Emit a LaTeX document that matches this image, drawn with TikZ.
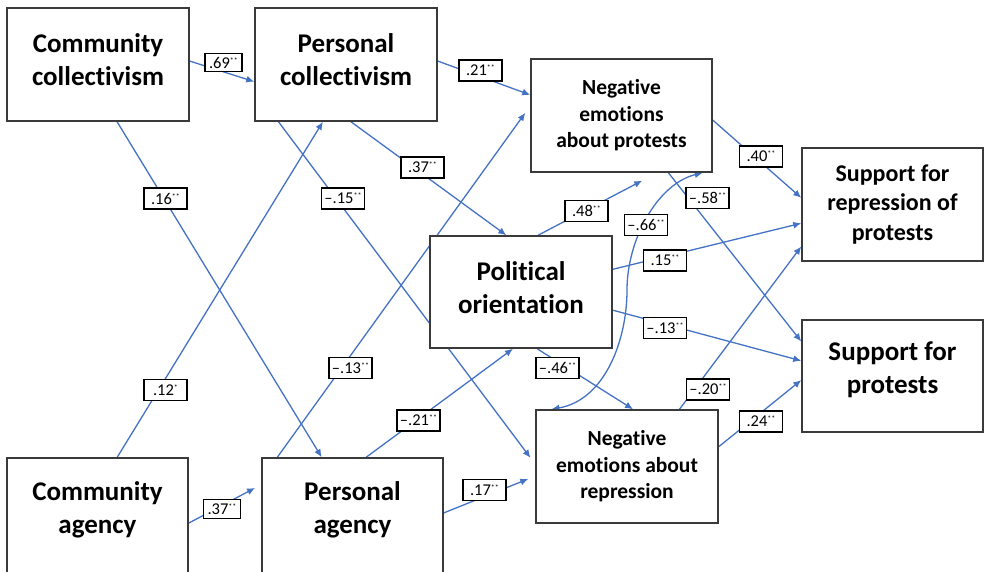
\documentclass[tikz,border=0pt]{standalone}
\usepackage{fontspec}
\setmainfont{Carlito}[Ligatures={TeX,NoCommon}]
\usetikzlibrary{arrows.meta,calc,backgrounds}
\definecolor{arrowblue}{HTML}{4472C4}
\definecolor{boxgray}{HTML}{3A3A3A}
\newcommand{\cfss}[1]{#1\raisebox{5pt}{\fontsize{8}{8}\selectfont**}}
\newcommand{\cfs}[1]{#1\raisebox{5pt}{\fontsize{8}{8}\selectfont*}}
\tikzset{
  bigbox/.style={draw=boxgray, line width=1.5pt, fill=white, align=center, inner sep=0pt,
    font=\bfseries\fontsize{27}{33}\selectfont},
  midbox/.style={bigbox, font=\bfseries\fontsize{21.5}{26.5}\selectfont},
  srpbox/.style={bigbox, font=\bfseries\fontsize{24}{29.5}\selectfont},
  conn/.style={draw=arrowblue, line width=1.3pt, -{Latex[length=8pt,width=7pt]}},
  conntwo/.style={draw=arrowblue, line width=1.3pt, {Latex[length=8pt,width=7pt]}-{Latex[length=8pt,width=7pt]}},
  lbl/.style={draw=black, line width=1.1pt, fill=white, font=\fontsize{16.5}{16.5}\selectfont,
    minimum width=43pt, minimum height=21pt, inner sep=1pt},
  slbl/.style={lbl, minimum width=37pt, minimum height=18.5pt},
}
\begin{document}
\begin{tikzpicture}[x=1pt,y=-1pt]
\useasboundingbox (0,0) rectangle (984,571);
% boxes
\node[bigbox, minimum width=182, minimum height=113, text depth=9pt] (cc) at (98,64.5) {Community\\collectivism};
\node[bigbox, minimum width=182, minimum height=113, text depth=9pt] (pc) at (346,64.5) {Personal\\collectivism};
\node[midbox, minimum width=181, minimum height=113] (nep) at (621.5,115.5) {Negative\\emotions\\about protests};
\node[srpbox, minimum width=181, minimum height=113] (srp) at (892.5,204.5) {Support for\\repression of\\protests};
\node[bigbox, minimum width=182, minimum height=112, text depth=8pt] (po) at (521,292) {Political\\orientation};
\node[bigbox, minimum width=181, minimum height=112, text depth=16pt] (sp) at (892.5,376) {Support for\\protests};
\node[midbox, minimum width=182, minimum height=113] (ner) at (627,466.5) {Negative\\emotions about\\repression};
\node[bigbox, minimum width=181, minimum height=115, text depth=15pt] (ca) at (97.5,515.5) {Community\\agency};
\node[bigbox, minimum width=181, minimum height=115, text depth=15pt] (pa) at (352.5,515.5) {Personal\\agency};
% connectors
\begin{scope}[on background layer]
\draw[conn] ($(cc.north east)!.47!(cc.south east)$) -- ($(pc.north west)!.65!(pc.south west)$);
\draw[conn] ($(cc.south west)!.604!(cc.south east)$) -- ($(pa.north west)!.331!(pa.north east)$);
\draw[conn] ($(ca.north west)!.608!(ca.north east)$) -- ($(pc.south west)!.374!(pc.south east)$);
\draw[conn, shorten >=7pt] ($(ca.north east)!.565!(ca.south east)$) -- ($(pa.north west)!.235!(pa.south west)$);
\draw[conn, shorten >=8pt] ($(pc.south west)!.132!(pc.south east)$) -- ($(ner.north west)!.48!(ner.south west)$);
\draw[conn] ($(pc.south west)!.527!(pc.south east)$) -- ($(po.north west)!.42!(po.north east)$);
\draw[conn] ($(pc.north east)!.47!(pc.south east)$) -- ($(nep.north west)!.32!(nep.south west)$);
\draw[conn, shorten >=8.5pt] ($(pa.north west)!.088!(pa.north east)$) -- ($(nep.north west)!.416!(nep.south west)$);
\draw[conn] ($(pa.north west)!.575!(pa.north east)$) -- ($(po.south west)!.456!(po.south east)$);
\draw[conn, shorten >=7.5pt] ($(pa.north east)!.478!(pa.south east)$) -- ($(ner.north west)!.584!(ner.south west)$);
\draw[conn, shorten >=17pt] ($(po.north west)!.593!(po.north east)$) -- ($(nep.south west)!.696!(nep.south east)$);
\draw[conn] ($(po.north east)!.30!(po.south east)$) -- ($(srp.north west)!.664!(srp.south west)$);
\draw[conn] ($(po.north east)!.66!(po.south east)$) -- ($(sp.north west)!.366!(sp.south west)$);
\draw[conn] ($(po.south west)!.588!(po.south east)$) -- ($(ner.north west)!.533!(ner.north east)$);
\draw[conn] ($(nep.north east)!.54!(nep.south east)$) -- ($(srp.north west)!.442!(srp.south west)$);
\draw[conn] ($(nep.south west)!.757!(nep.south east)$) -- ($(sp.north west)!.196!(sp.south west)$);
\draw[conn] ($(ner.north west)!.786!(ner.north east)$) -- ($(srp.north west)!.867!(srp.south west)$);
\draw[conn] ($(ner.north east)!.327!(ner.south east)$) -- ($(sp.north west)!.536!(sp.south west)$);
\coordinate (m66) at (627,290);
\draw[conntwo] ($(nep.south west)!.945!(nep.south east)$) .. controls (657,184) and (627,240) .. (m66)
   .. controls (627,340) and (605,400) .. ($(ner.north west)!.088!(ner.north east)$);
\end{scope}
% coefficient labels
\node[slbl] (l69) at (223.5,62.5) {\cfss{.69}};
\node[lbl] (l16) at (165.5,198.5) {\cfss{.16}};
\node[lbl] (l12) at (165.5,390) {\cfs{.12}};
\node[slbl] (l37a) at (222,509) {\cfss{.37}};
\node[lbl] (l15) at (343,198.5) {\cfss{--.15}};
\node[lbl] (l37b) at (422.5,167.5) {\cfss{.37}};
\node[lbl] (l21) at (480.5,70.5) {\cfss{.21}};
\node[lbl] (l13a) at (350.5,368) {\cfss{--.13}};
\node[lbl] (l21b) at (418.5,420.5) {\cfss{--.21}};
\node[lbl] (l17) at (484.5,490) {\cfss{.17}};
\node[lbl] (l48) at (586.5,211) {\cfss{.48}};
\node[lbl] (l15b) at (665,260.5) {\cfss{.15}};
\node[lbl] (l13b) at (665,328) {\cfss{--.13}};
\node[lbl] (l46) at (557.5,368) {\cfss{--.46}};
\node[lbl] (l40) at (761,156.5) {\cfss{.40}};
\node[lbl] (l58) at (707.5,198) {\cfss{--.58}};
\node[lbl] (l66) at (646,225) {\cfss{--.66}};
\node[lbl] (l20) at (708,389.5) {\cfss{--.20}};
\node[lbl] (l24) at (761,421.5) {\cfss{.24}};
\end{tikzpicture}
\end{document}
